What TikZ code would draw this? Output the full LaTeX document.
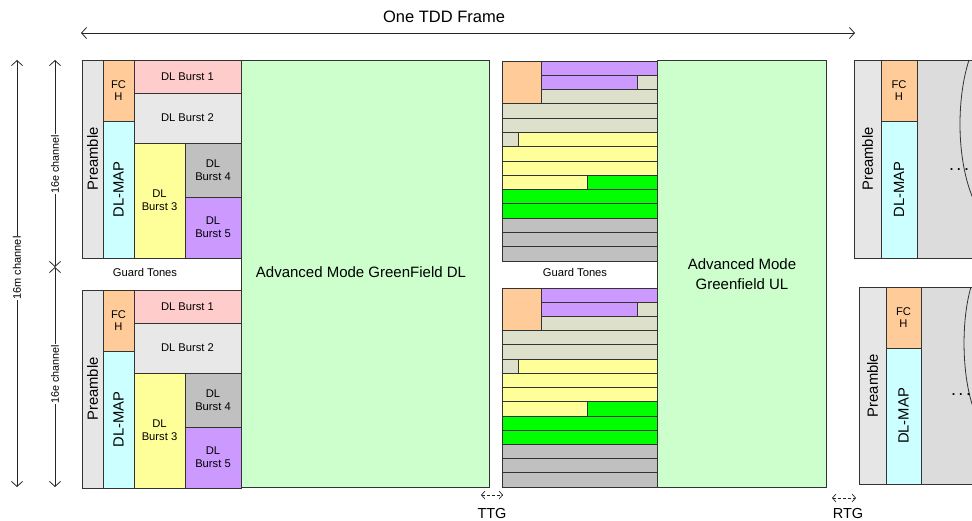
\documentclass[tikz,border=0pt]{standalone}
\usepackage{fontspec}
\setmainfont{Liberation Sans}
\usepackage{graphicx}
\usetikzlibrary{arrows.meta}
\definecolor{cpre}{HTML}{E6E6E6}
\definecolor{cfch}{HTML}{FFCC99}
\definecolor{cmap}{HTML}{CCFFFF}
\definecolor{cb1}{HTML}{FFCCCC}
\definecolor{cb2}{HTML}{E8E8E8}
\definecolor{cb3}{HTML}{FFFF99}
\definecolor{cb4}{HTML}{C0C0C0}
\definecolor{cb5}{HTML}{CC99FF}
\definecolor{cgf}{HTML}{CCFFCC}
\definecolor{ulbeige}{HTML}{DDE0CB}
\definecolor{ulgreen}{HTML}{00FF00}
\definecolor{ulgray}{HTML}{C0C0C0}
\definecolor{ulpurple}{HTML}{CC99FF}
\definecolor{ulyellow}{HTML}{FFFF99}
\definecolor{crest}{HTML}{DCDCDC}
\definecolor{cline}{HTML}{333333}
\tikzset{
  bx/.style={draw=cline, line width=0.8pt, inner sep=0pt, outer sep=0pt,
    anchor=north west, align=center, font=\fontsize{11.2}{12.8}\selectfont},
  dimline/.style={draw=black!85, line width=0.8pt,
    {Straight Barb[length=5pt,width=11pt]}-{Straight Barb[length=5pt,width=11pt]}},
  gapline/.style={draw=black!85, line width=0.7pt, dash pattern=on 3pt off 2pt,
    {Straight Barb[length=3.5pt,width=8pt]}-{Straight Barb[length=3.5pt,width=8pt]}},
  lbl/.style={inner sep=0pt, outer sep=0pt}
}
\newcommand\bxn[7]{\node[bx, fill=#6, minimum width={((#4)-(#2))*1pt}, minimum height={((#5)-(#3))*1pt}] (#1) at (#2,{#3}) {#7};}
\newcommand\vtext[1]{\rotatebox{90}{\fontsize{14.8}{16}\selectfont #1}}
\newcommand\dlblock[2]{% #1 prefix, #2 top y
  \bxn{#1pre}{82}{#2}{103}{#2+198}{cpre}{\vtext{Preamble}}
  \bxn{#1fch}{103}{#2}{134}{#2+61}{cfch}{FC\\H}
  \bxn{#1map}{103}{#2+61}{134}{#2+198}{cmap}{\vtext{DL-MAP}}
  \bxn{#1b1}{134}{#2}{241}{#2+33}{cb1}{DL Burst 1}
  \bxn{#1b2}{134}{#2+33}{241}{#2+83}{cb2}{DL Burst 2}
  \bxn{#1b3}{134}{#2+83}{185}{#2+198}{cb3}{DL\\Burst 3}
  \bxn{#1b4}{185}{#2+83}{241}{#2+137}{cb4}{DL\\Burst 4}
  \bxn{#1b5}{185}{#2+137}{241}{#2+198}{cb5}{DL\\Burst 5}
}
\newcommand\ulgrid[3]{% prefix, y0, h
  \node[bx, fill=cfch, minimum width=39pt, minimum height={3*#3pt}] (#1or) at (502,#2) {};
  \foreach \r/\xa/\xb/\c [count=\i] in {0/541/657/ulpurple,1/541/637/ulpurple,1/637/657/ulbeige,
      2/541/657/ulbeige,3/502/657/ulbeige,4/502/657/ulbeige,5/502/518/ulbeige,5/518/657/ulyellow,
      6/502/657/ulyellow,7/502/657/ulyellow,8/502/587/ulyellow,8/587/657/ulgreen,
      9/502/657/ulgreen,10/502/657/ulgreen,11/502/657/ulgray,12/502/657/ulgray,13/502/657/ulgray}{
    \node[bx, fill=\c, minimum width={(\xb-\xa)*1pt}, minimum height=#3pt] (#1r\i) at (\xa,{#2+\r*#3}) {};
  }
}
\newcommand\spdots{.\hspace{2.5pt}.\hspace{2.5pt}.}
\begin{document}
\begin{tikzpicture}[x=1pt,y=-1pt]
\useasboundingbox[fill=white] (0,0) rectangle (972,520);
\begin{scope}
\clip (0,0) rectangle (972,520);
% title arrow
\node[lbl, font=\fontsize{16.5}{18}\selectfont] (title) at (444,17) {One TDD Frame};
\coordinate (tddL) at (81,33);
\coordinate (tddR) at (855,33);
\draw[dimline] (tddL) -- (tddR);
% left dimension lines
\coordinate (m1) at (17,60);
\coordinate (m2) at (17,487);
\draw[dimline] (m1) -- (m2);
\node[lbl, fill=white, inner sep=1pt, rotate=90, font=\fontsize{11}{12}\selectfont] (lm) at (17,268) {16m channel};
\coordinate (e1) at (55,60);
\coordinate (e2) at (55,267);
\coordinate (e3) at (55,487);
\draw[dimline] (e1) -- (e2);
\draw[dimline] (e2) -- (e3);
\node[lbl, fill=white, inner sep=1pt, rotate=90, font=\fontsize{10.8}{12}\selectfont] (le1) at (55,164) {16e channel};
\node[lbl, fill=white, inner sep=1pt, rotate=90, font=\fontsize{10.8}{12}\selectfont] (le2) at (55,374) {16e channel};
% DL blocks
\dlblock{u}{60}
\dlblock{l}{290}
\node[lbl, font=\fontsize{11.2}{12}\selectfont] (gt1) at (145,272) {Guard Tones};
% greenfield DL
\bxn{gfdl}{241}{60}{489}{487}{cgf}{}
\node[lbl, font=\fontsize{15}{17}\selectfont] (gfdlt) at (361,272) {Advanced Mode GreenField DL};
% UL grids
\ulgrid{ua}{61}{14.2857}
\ulgrid{la}{288}{14.2143}
\node[lbl, font=\fontsize{11.2}{12}\selectfont] (gt2) at (575,272) {Guard Tones};
% greenfield UL
\bxn{gful}{657}{60}{826}{487}{cgf}{}
\node[lbl, align=center, font=\fontsize{15}{19.5}\selectfont] (gfult) at (742,274) {Advanced Mode\\Greenfield UL};
% TTG / RTG
\coordinate (t1) at (481,495);
\coordinate (t2) at (503,495);
\draw[gapline] (t1) -- (t2);
\node[lbl, font=\fontsize{14.5}{16}\selectfont] (ttg) at (492,513) {TTG};
\coordinate (r1) at (832,498);
\coordinate (r2) at (856,498);
\draw[gapline] (r1) -- (r2);
\node[lbl, font=\fontsize{14.5}{16}\selectfont] (rtg) at (848,513) {RTG};
% next frame, upper
\bxn{npre}{854}{60}{881}{258}{cpre}{\vtext{Preamble}}
\bxn{nfch}{881}{60}{917}{121}{cfch}{FC\\H}
\bxn{nmap}{881}{121}{917}{258}{cmap}{\vtext{DL-MAP}}
\bxn{nrest}{917}{60}{990}{258}{crest}{}
\draw[draw=cline, line width=0.8pt] (969,60) .. controls (956,100) and (956,165) .. (976,205);
\node[lbl, font=\fontsize{18}{20}\selectfont] (ndots) at (959,170) {\spdots};
% next frame, lower
\bxn{mpre}{859}{287}{886}{484}{cpre}{\vtext{Preamble}}
\bxn{mfch}{886}{287}{921}{348}{cfch}{FC\\H}
\bxn{mmap}{886}{348}{921}{484}{cmap}{\vtext{DL-MAP}}
\bxn{mrest}{921}{287}{990}{484}{crest}{}
\draw[draw=cline, line width=0.8pt] (971,287) .. controls (961,320) and (961,380) .. (976,415);
\node[lbl, font=\fontsize{18}{20}\selectfont] (mdots) at (961,395) {\spdots};
\end{scope}
\end{tikzpicture}
\end{document}
